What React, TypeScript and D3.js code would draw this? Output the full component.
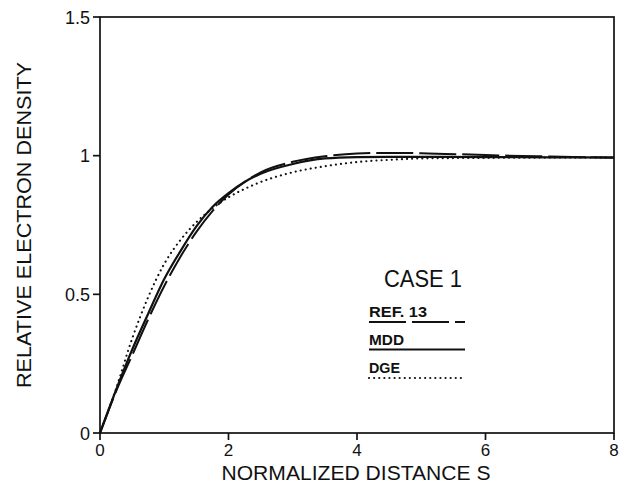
import React from "react";
import * as d3 from "d3";

// Normalized distance S and relative electron density for each model
const distance = [0, 0.25, 0.5, 0.75, 1, 1.25, 1.5, 1.75, 2, 2.25, 2.5, 3, 3.5, 4, 4.5, 5, 6, 7, 8];
const ref13 = [0, 0.15, 0.28, 0.41, 0.53, 0.635, 0.725, 0.8, 0.86, 0.905, 0.94, 0.978, 0.998, 1.008, 1.01, 1.009, 1.002, 0.997, 0.993];
const mdd = [0, 0.155, 0.3, 0.43, 0.555, 0.655, 0.745, 0.815, 0.865, 0.905, 0.935, 0.97, 0.99, 0.995, 0.996, 0.996, 0.995, 0.994, 0.993];
const dge = [0, 0.16, 0.34, 0.49, 0.61, 0.695, 0.76, 0.81, 0.85, 0.88, 0.905, 0.94, 0.962, 0.977, 0.985, 0.99, 0.992, 0.993, 0.993];

const xTicks = [0, 2, 4, 6, 8];
const yTicks = [0, 0.5, 1, 1.5];
const yTickLabels = ["0", "0.5", "1", "1.5"];

const seriesNames = ["REF. 13", "MDD", "DGE"];
const caseLabel = "CASE 1";

const W = 621;
const H = 487;
const FONT = "'Liberation Sans', Arial, Helvetica, sans-serif";

export default function App() {
  const x = d3.scaleLinear().domain([0, 8]).range([100, 614]);
  const y = d3.scaleLinear().domain([0, 1.5]).range([433, 17]);

  const line = d3
    .line<number>()
    .x((_, i) => x(distance[i]))
    .y((d) => y(d))
    .curve(d3.curveMonotoneX);

  const styles = [
    { dash: "37 6", width: 2, cap: "butt" as const },
    { dash: undefined, width: 2.2, cap: "butt" as const },
    { dash: "0.1 5", width: 2.1, cap: "round" as const },
  ];
  const series = [ref13, mdd, dge];

  const [x0, x1] = x.range();
  const [yb, yt] = y.range();
  const tick = 7;

  const legendX = 369;
  const legendEnd = 465;
  const legendBase = [316.5, 345, 373];
  const legendLineY = [322, 349.5, 378];
  const legendLabelW = [58, 35, 31];

  return (
    <svg
      width={W}
      height={H}
      viewBox={`0 0 ${W} ${H}`}
      style={{ position: "absolute", left: 0, top: 0, background: "#fff" }}
    >
      <rect x={0} y={0} width={W} height={H} fill="#fff" />

      {/* frame */}
      <rect x={x0} y={yt} width={x1 - x0} height={yb - yt} fill="none" stroke="#111" strokeWidth={1.7} />

      {/* x ticks */}
      {xTicks.map((t) => (
        <g key={`xt${t}`}>
          <line x1={x(t)} x2={x(t)} y1={yb} y2={yb + tick} stroke="#111" strokeWidth={1.7} />
          <text x={x(t)} y={456} textAnchor="middle" fontFamily={FONT} fontSize={17} fill="#111">
            {t}
          </text>
        </g>
      ))}

      {/* y ticks */}
      {yTicks.map((t, i) => (
        <g key={`yt${t}`}>
          <line x1={x0 - tick} x2={x0} y1={y(t)} y2={y(t)} stroke="#111" strokeWidth={1.7} />
          <text
            x={x0 - 10}
            y={y(t) + 6.5}
            textAnchor="end"
            fontFamily={FONT}
            fontSize={18}
            fill="#111"
          >
            {yTickLabels[i]}
          </text>
        </g>
      ))}

      {/* axis titles */}
      <text
        x={356}
        y={480}
        textAnchor="middle"
        fontFamily={FONT}
        fontSize={20}
        textLength={269}
        lengthAdjust="spacingAndGlyphs"
        fill="#111"
      >
        NORMALIZED DISTANCE S
      </text>
      <text
        transform={`translate(31,225) rotate(-90)`}
        textAnchor="middle"
        fontFamily={FONT}
        fontSize={21}
        textLength={326}
        lengthAdjust="spacingAndGlyphs"
        fill="#111"
      >
        RELATIVE ELECTRON DENSITY
      </text>

      {/* curves */}
      {series.map((s, i) => (
        <path
          key={seriesNames[i]}
          d={line(s) || ""}
          fill="none"
          stroke="#111"
          strokeWidth={styles[i].width}
          strokeDasharray={styles[i].dash}
          strokeLinecap={styles[i].cap}
        />
      ))}

      {/* legend */}
      <text
        x={423}
        y={287}
        textAnchor="middle"
        fontFamily={FONT}
        fontSize={23}
        textLength={78}
        lengthAdjust="spacingAndGlyphs"
        fill="#111"
      >
        {caseLabel}
      </text>
      {seriesNames.map((name, i) => (
        <g key={`lg${name}`}>
          <text
            x={legendX}
            y={legendBase[i]}
            fontFamily={FONT}
            fontSize={14}
            fontWeight={600}
            textLength={legendLabelW[i]}
            lengthAdjust="spacingAndGlyphs"
            fill="#111"
          >
            {name}
          </text>
          <line
            x1={legendX}
            x2={legendEnd}
            y1={legendLineY[i]}
            y2={legendLineY[i]}
            stroke="#111"
            strokeWidth={styles[i].width}
            strokeDasharray={styles[i].dash}
            strokeLinecap={styles[i].cap}
          />
        </g>
      ))}
    </svg>
  );
}
